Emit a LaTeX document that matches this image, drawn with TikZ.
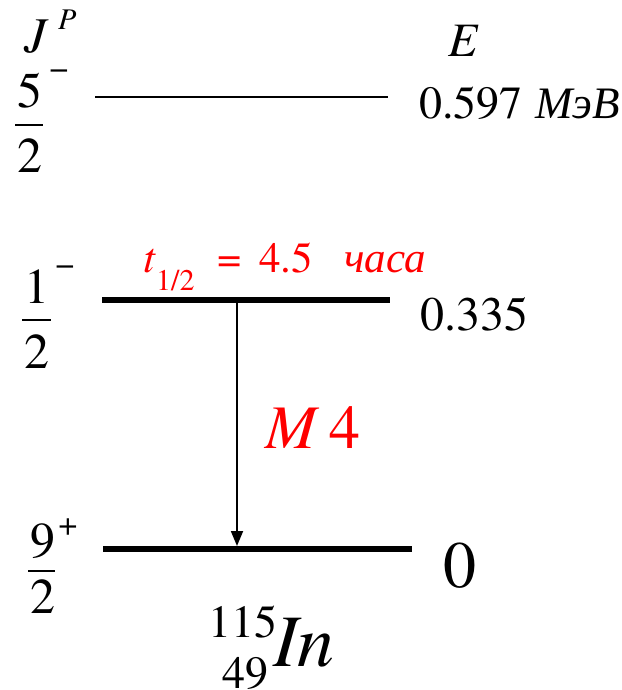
\documentclass[tikz,border=0pt]{standalone}
\usepackage{fontspec}
\IfFontExistsTF{texgyretermes-regular.otf}{%
  \setmainfont{texgyretermes}[Extension=.otf,UprightFont=*-regular,ItalicFont=*-italic,BoldFont=*-bold,BoldItalicFont=*-bolditalic]%
}{\setmainfont{Liberation Serif}}
\IfFontExistsTF{FreeSerifItalic.otf}{\newfontfamily\cyrit{FreeSerifItalic.otf}}{%
  \IfFontExistsTF{Tempora-Italic.otf}{\newfontfamily\cyrit{Tempora-Italic.otf}}{%
    \IfFontExistsTF{OldStandard-Italic.otf}{\newfontfamily\cyrit{OldStandard-Italic.otf}}{%
      \newfontfamily\cyrit{Liberation Serif Italic}}}}
\usetikzlibrary{arrows.meta}
\newcommand{\fsz}[1]{\fontsize{#1pt}{#1pt}\selectfont}
\begin{document}
\begin{tikzpicture}[x=1pt,y=-1pt,
  txt/.style={inner sep=0pt, anchor=base west},
  ctxt/.style={inner sep=0pt, anchor=base},
  rtxt/.style={text=red},
  fracbar/.style={line width=2pt},
  thinlevel/.style={line width=1.5pt},
  thicklevel/.style={line width=5.5pt},
  gamma/.style={line width=1.8pt, -{Triangle[length=15pt,width=12pt]}}
]
\useasboundingbox (0,0) rectangle (621,690);

% header
\node[txt,font=\itshape\fsz{50}] (J) at (24,53) {J};
\node[txt,font=\itshape\fsz{30}] (P) at (58,30) {P};
\node[txt,font=\itshape\fsz{48}] (E) at (448,57) {E};

% level 5/2-
\node[ctxt,font=\fsz{50}] (n5) at (30,107) {5};
\draw[fracbar] (15,125) -- (43,125);
\node[ctxt,font=\fsz{50}] (d5) at (30,172) {2};
\node[ctxt,font=\fsz{34}] (s5) at (59,80) {−};
\coordinate (l1a) at (95,97);
\coordinate (l1b) at (388,97);
\draw[thinlevel] (l1a) -- (l1b);
\node[txt,font=\fsz{46}] (e1) at (419,118) {0.597};
\node[txt,font=\cyrit\fsz{45}] (u1) at (535,118) {МэВ};

% level 1/2-
\node[ctxt,font=\fsz{50}] (n1) at (36.5,303) {1};
\draw[fracbar] (22,320) -- (51,320);
\node[ctxt,font=\fsz{50}] (d1) at (36.5,368) {2};
\node[ctxt,font=\fsz{34}] (s1) at (65,275) {−};
\coordinate (l2a) at (102,300);
\coordinate (l2b) at (390,300);
\draw[thicklevel] (l2a) -- (l2b);
\node[txt,font=\fsz{48}] (e2) at (420,330) {0.335};

% half-life
\node[txt,rtxt,font=\itshape\fsz{43}] (t) at (143,272) {t};
\node[txt,rtxt,font=\fsz{30}] (tsub) at (156,290) {1/2};
\node[txt,rtxt,font=\fsz{43}] (teq) at (217,272) {=};
\node[txt,rtxt,font=\fsz{43}] (tval) at (259,272) {4.5};
\node[txt,rtxt,font=\cyrit\fsz{43}] (tunit) at (344,272) {часа};

% level 9/2+
\node[ctxt,font=\fsz{50}] (n9) at (43,557) {9};
\draw[fracbar] (28,571) -- (55,571);
\node[ctxt,font=\fsz{50}] (d9) at (42.5,613) {2};
\node[ctxt,font=\fsz{34}] (s9) at (68,535) {+};
\coordinate (l3a) at (103,549);
\coordinate (l3b) at (412,549);
\draw[line width=6pt] (l3a) -- (l3b);
\node[txt,font=\fsz{66}] (e3) at (443,587) {0};

% transition
\coordinate (g1) at (237,302);
\coordinate (g2) at (237,546);
\draw[gamma] (g1) -- (g2);
\node[txt,rtxt,font=\itshape\fsz{62}] (M) at (265,448) {M};
\node[txt,rtxt,font=\fsz{62}] (M4) at (329,448) {4};

% nucleus
\node[txt,font=\fsz{46}] (A) at (208,637) {115};
\node[txt,font=\fsz{46}] (Z) at (222,688) {49};
\node[txt,font=\itshape\fsz{74}] (In) at (273,666) {In};
\end{tikzpicture}
\end{document}
